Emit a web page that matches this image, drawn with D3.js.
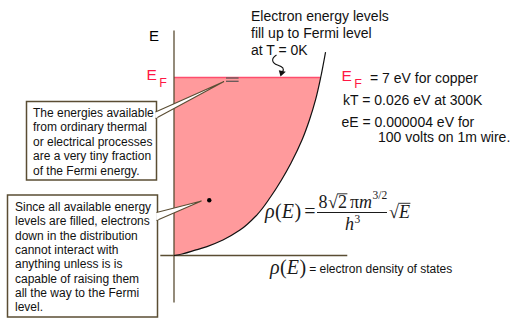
<!DOCTYPE html>
<html><head><meta charset="utf-8">
<script src="https://cdn.jsdelivr.net/npm/d3@7"></script>
<style>
html,body{margin:0;padding:0;background:#fff;}
svg{display:block;}
</style></head><body>
<svg id="c" width="512" height="331"></svg>
<script>
// ---- data ----
const curveRho = [0, 0.53, 1.45, 2.17, 3.22, 4.34, 5.46, 6.35, 7.07, 7.7, 8.42, 8.91, 9.31, 9.65, 9.97];
const curveE   = [0, 0.06, 0.22, 0.35, 0.61, 1.0, 1.6, 2.3, 2.97, 3.64, 4.54, 5.33, 6.12, 7.0, 8.0];
const fermiE = 7;
const eAxisRange = [-1.85, 8.85];
const rhoAxisRange = [-0.9, 11.4];
const dotRho = [2.32];
const dotE = [2.17];
const tinyMarkRho = [3.42, 4.25];
const tinyMarkE = [6.98, 6.85];
const topNote = ["Electron energy levels", "fill up to Fermi level", "at T = 0K"];
const box1Lines = ["The energies available", "from ordinary thermal", "or electrical processes", "are a very tiny fraction", "of the Fermi energy."];
const box2Lines = ["Since all available energy", "levels are filled, electrons", "down in the distribution", "cannot interact with", "anything unless is is", "capable of raising them", "all the way to the Fermi", "level."];
const factLines = ["= 7 eV for copper", "kT = 0.026 eV at 300K", "eE = 0.000004 eV for", "100 volts on 1m wire."];
const densityCaption = "= electron density of states";

// ---- layout ----
const SANS = '"Liberation Sans", Arial, Helvetica, sans-serif';
const SERIF = '"Liberation Serif", "Times New Roman", serif';
const AX = "#5a4d33";
const RED = "#ff1744";
const svg = d3.select("#c");

const x = d3.scaleLinear().domain([0, 10]).range([174, 326]);
const y = d3.scaleLinear().domain([0, 7]).range([255.5, 77.5]);

// ordered top-to-bottom on screen for the monotone curve
const pts = curveRho.map((r, i) => ({rho: r, E: curveE[i]})).reverse();
const fillPts = pts.filter(d => d.E <= fermiE);

// filled region
svg.append("path")
  .attr("d", d3.area().y(d => y(d.E)).x0(x(0)).x1(d => x(d.rho)).curve(d3.curveMonotoneY)(fillPts))
  .attr("fill", "#ff9a9c");

// Fermi level line
svg.append("line")
  .attr("x1", x(0)).attr("x2", x(fillPts[0].rho))
  .attr("y1", y(fermiE)).attr("y2", y(fermiE))
  .attr("stroke", "#ff4d6d").attr("stroke-width", 1.6);

// axes
svg.append("line").attr("x1", x(0)).attr("x2", x(0))
  .attr("y1", y(eAxisRange[1])).attr("y2", y(eAxisRange[0]))
  .attr("stroke", AX).attr("stroke-width", 1.3);
svg.append("line").attr("x1", x(rhoAxisRange[0])).attr("x2", x(rhoAxisRange[1]))
  .attr("y1", y(0)).attr("y2", y(0))
  .attr("stroke", AX).attr("stroke-width", 1.3);

// density curve
svg.append("path")
  .attr("d", d3.line().x(d => x(d.rho)).y(d => y(d.E)).curve(d3.curveMonotoneY)(pts))
  .attr("fill", "none").attr("stroke", "#111").attr("stroke-width", 1.2);

// tiny "=" mark on Fermi level
tinyMarkE.forEach(e => {
  svg.append("line").attr("x1", x(tinyMarkRho[0])).attr("x2", x(tinyMarkRho[1]))
    .attr("y1", y(e)).attr("y2", y(e))
    .attr("stroke", "#6b5b5b").attr("stroke-width", 1.4);
});

// dot
svg.selectAll("circle.dot").data(dotRho).join("circle")
  .attr("cx", d => x(d)).attr("cy", (d, i) => y(dotE[i])).attr("r", 2.2).attr("fill", "#000");

// callout boxes with wedges
function callout(bx, by, bw, bh, wedgeY1, wedgeY2, tipX, tipY, lines, tx, ty0, lh) {
  const g = svg.append("g");
  g.append("rect").attr("x", bx).attr("y", by).attr("width", bw).attr("height", bh)
    .attr("fill", "#fff").attr("stroke", AX).attr("stroke-width", 1.5);
  g.append("path")
    .attr("d", `M${bx + bw - 1},${wedgeY1} L${tipX},${tipY} L${bx + bw - 1},${wedgeY2}`)
    .attr("fill", "#fff").attr("stroke", AX).attr("stroke-width", 1.1).attr("stroke-linejoin", "miter");
  g.append("line").attr("x1", bx + bw).attr("x2", bx + bw).attr("y1", wedgeY1 + 0.8).attr("y2", wedgeY2 - 0.8)
    .attr("stroke", "#fff").attr("stroke-width", 1.7);
  g.selectAll("text").data(lines).join("text")
    .attr("x", tx).attr("y", (d, i) => ty0 + i * lh)
    .style("font-family", SANS).style("font-size", "12px").attr("fill", "#111")
    .text(d => d);
}
callout(26.5, 101.5, 130, 78.5, 112, 118.5, 224, 81.5, box1Lines, 33, 116.5, 14.5);
callout(7.5, 195, 150, 122, 212.5, 220.5, 201.5, 201, box2Lines, 15, 211, 14.3);

// E axis label
svg.append("text").attr("x", 149).attr("y", 41).style("font-family", SANS).style("font-size", "15px")
  .attr("fill", "#000").text("E");

// E_F labels
function ef(xp, yp) {
  const t = svg.append("text").attr("x", xp).attr("y", yp).style("font-family", SANS).attr("fill", RED);
  t.append("tspan").style("font-size", "15.5px").text("E");
  t.append("tspan").style("font-size", "12.5px").attr("dx", 2.5).attr("dy", 7).text("F");
}
ef(146.5, 80);
ef(341.5, 80.5);

// top note
svg.selectAll("text.top").data(topNote).join("text").attr("class", "top")
  .attr("x", 251).attr("y", (d, i) => 20.5 + i * 17)
  .style("font-family", SANS).style("font-size", "14px").attr("fill", "#111").text(d => d);

// squiggle arrow
svg.append("path").attr("d", "M276.5,55 C270.5,58.5 272,63 277.5,65 C283,67 284.5,68.5 282.5,72")
  .attr("fill", "none").attr("stroke", "#111").attr("stroke-width", 1.1);
svg.append("path").attr("d", "M280.5,76.5 L278.8,70.2 L285.8,71.8 Z").attr("fill", "#111");

// facts on right
const factX = [370, 343, 341.5, 378];
const factY = [82.5, 104.5, 126.5, 141.5];
svg.selectAll("text.fact").data(factLines).join("text").attr("class", "fact")
  .attr("x", (d, i) => factX[i]).attr("y", (d, i) => factY[i])
  .style("font-family", SANS).style("font-size", "14px").attr("fill", "#111").text(d => d);

// formula
function seq(g, x0, yb, parts) {
  let cx = x0;
  parts.forEach(p => {
    const t = g.append("text").attr("x", cx + (p.dx || 0)).attr("y", yb + (p.dy || 0))
      .style("font-family", SERIF).style("font-size", p.size + "px")
      .style("font-style", p.it ? "italic" : "normal").attr("fill", "#1a1a1a").text(p.t);
    p.x0 = cx + (p.dx || 0);
    p.w = t.node().getComputedTextLength();
    cx = p.x0 + p.w;
  });
  return parts;
}
const fg = svg.append("g");
seq(fg, 265, 217.5, [
  {t: "ρ", size: 20, it: true}, {t: "(", size: 20, dx: 0.5}, {t: "E", size: 20, it: true}, {t: ")", size: 20, dx: 0.5}, {t: "=", size: 20, dx: 3}
]);
const num = seq(fg, 318.5, 208, [
  {t: "8", size: 18}, {t: "√", size: 18, dx: 0.5}, {t: "2", size: 18}, {t: "π", size: 18, dx: 3},
  {t: "m", size: 18, it: true}, {t: "3/2", size: 11.5, dy: -9, dx: 0.5}
]);
fg.append("line").attr("x1", num[1].x0 + num[1].w - 0.6).attr("x2", num[2].x0 + num[2].w + 0.5)
  .attr("y1", 208 - 14.2).attr("y2", 208 - 14.2).attr("stroke", "#1a1a1a").attr("stroke-width", 0.9);
fg.append("line").attr("x1", 317).attr("x2", 387).attr("y1", 212.5).attr("y2", 212.5)
  .attr("stroke", "#1a1a1a").attr("stroke-width", 1);
seq(fg, 345, 230, [{t: "h", size: 18, it: true}, {t: "3", size: 11.5, dy: -7.5, dx: 0.5}]);
const rad = seq(fg, 389, 217.5, [{t: "√", size: 18}, {t: "E", size: 18, it: true}]);
fg.append("line").attr("x1", rad[0].x0 + rad[0].w - 0.6).attr("x2", rad[1].x0 + rad[1].w + 0.5)
  .attr("y1", 217.5 - 14.2).attr("y2", 217.5 - 14.2).attr("stroke", "#1a1a1a").attr("stroke-width", 0.9);

// caption
const cap = seq(fg, 270, 273.5, [{t: "ρ", size: 20, it: true}, {t: "(", size: 20, dx: 0.5}, {t: "E", size: 20, it: true}, {t: ")", size: 20, dx: 0.5}]);
svg.append("text").attr("x", cap[3].x0 + cap[3].w + 3).attr("y", 273)
  .style("font-family", SANS).style("font-size", "12px").attr("fill", "#111").text(densityCaption);
</script>
</body></html>
